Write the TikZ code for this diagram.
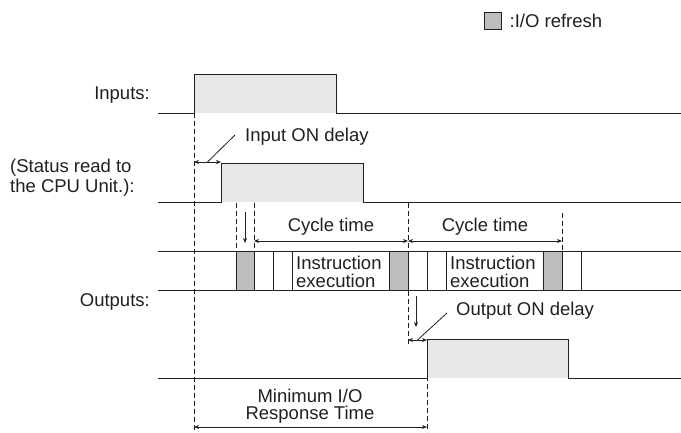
\documentclass[tikz,border=0pt]{standalone}
\usepackage{fontspec}
\setmainfont{Liberation Sans}
\usetikzlibrary{arrows.meta,positioning,calc}
\definecolor{tdink}{HTML}{231F20}
\definecolor{tdpulse}{HTML}{E6E7E8}
\definecolor{tdrefresh}{HTML}{BDBEC0}

\begin{document}
\begin{tikzpicture}[
  x=1pt, y=-1pt,
  font=\fontsize{18.5}{19}\selectfont,
  wave/.style={draw=tdink, line width=1pt},
  pulse/.style={fill=tdpulse},
  refresh/.style={draw=tdink, fill=tdrefresh, line width=1pt},
  slot/.style={draw=tdink, line width=1pt},
  guide/.style={draw=tdink, dash pattern=on 5pt off 3pt, line width=0.9pt},
  span/.style={{Stealth[length=5pt,width=4pt]}-{Stealth[length=5pt,width=4pt]}, line width=0.8pt, draw=tdink},
  pointer/.style={-{Stealth[length=5pt,width=4pt]}, line width=0.8pt, draw=tdink},
  leader/.style={line width=0.8pt, draw=tdink},
  lbl/.style={inner sep=0pt, text=tdink}
]
\useasboundingbox (0,0) rectangle (681,432);

% legend
\node[refresh, minimum width=17pt, minimum height=17pt, inner sep=0pt] (key) at (492.5,20.5) {};
\node[lbl, right=8pt of key] (keytext) {:I/O refresh};

% signal names
\node[lbl, anchor=east] (inputs) at (150,95) {Inputs:};
\node[lbl, anchor=west, align=left, font=\fontsize{18.5}{20}\selectfont] (status) at (10,178) {(Status read to\\the CPU Unit.):};
\node[lbl, anchor=east] (outputs) at (150,302) {Outputs:};

% waveforms
\fill[pulse] (194,74) rectangle (336,113);
\draw[wave] (158,113) -- (194,113) -- (194,74) -- (336,74) -- (336,113) -- (681,113);
\fill[pulse] (221,163) rectangle (363,202);
\draw[wave] (158,202) -- (221,202) -- (221,163) -- (363,163) -- (363,202) -- (681,202);
\fill[pulse] (427,339) rectangle (568,378);
\draw[wave] (158,378) -- (427,378) -- (427,339) -- (568,339) -- (568,378) -- (681,378);

% cycle row
\draw[slot] (158,251) -- (681,251) (158,290) -- (681,290);
\foreach \a/\b in {236/254,389/408,543/562}
  \draw[refresh] (\a,251) rectangle (\b,290);
\foreach \x in {273,292,427,446,581}
  \draw[slot] (\x,251) -- (\x,290);
\node[lbl, anchor=west, align=left, font=\fontsize{18.5}{18}\selectfont] (exec1) at (296,272) {Instruction\\execution};
\node[lbl, anchor=west, align=left, font=\fontsize{18.5}{18}\selectfont] (exec2) at (450,272) {Instruction\\execution};

% time markers
\coordinate (inrise) at (194,113);
\coordinate (strise) at (221,163);
\coordinate (cyc0) at (254,241);
\coordinate (cyc1) at (408,241);
\coordinate (cyc2) at (562,241);
\coordinate (outrise) at (427,378);
\coordinate (bottom) at (0,432);
\draw[guide] (inrise) -- (inrise |- bottom);
\draw[guide] (236,203) -- (236,251);
\draw[guide] (254,203) -- (254,251);
\draw[guide] (408,203) -- (408,345);
\draw[guide] (562,213) -- (562,251);
\draw[guide] ([yshift=2pt]outrise) -- (outrise |- bottom);

% input ON delay
\coordinate (indl) at (inrise |- 0,162);
\coordinate (indr) at (strise |- 0,162);
\draw[span] (indl) -- (indr);
\node[lbl, anchor=west] (indelay) at (245,137) {Input ON delay};
\draw[leader] ($(indl)!0.5!(indr)$) -- (235,135);
\draw[pointer] (245,212) -- (245,243);

% cycle times
\draw[span] (cyc0) -- (cyc1);
\draw[span] (cyc1) -- (cyc2);
\node[lbl] (cycle1) at ($(cyc0)!0.5!(cyc1)+(0,-14)$) {Cycle time};
\node[lbl] (cycle2) at ($(cyc1)!0.5!(cyc2)+(0,-14)$) {Cycle time};

% output ON delay
\coordinate (outdl) at (408,340);
\coordinate (outdr) at (outrise |- 0,340);
\draw[pointer] (416,296) -- (416,327);
\draw[span] (outdl) -- (outdr);
\node[lbl, anchor=west] (outdelay) at (456,311) {Output ON delay};
\draw[leader] ($(outdl)!0.5!(outdr)$) -- (447,313);

% response time
\coordinate (respl) at (inrise |- 0,427);
\coordinate (respr) at (outrise |- 0,427);
\draw[span] (respl) -- (respr);
\node[lbl, align=center, font=\fontsize{18.5}{17}\selectfont] (resp) at (310,406) {Minimum I/O\\Response Time};
\end{tikzpicture}
\end{document}
